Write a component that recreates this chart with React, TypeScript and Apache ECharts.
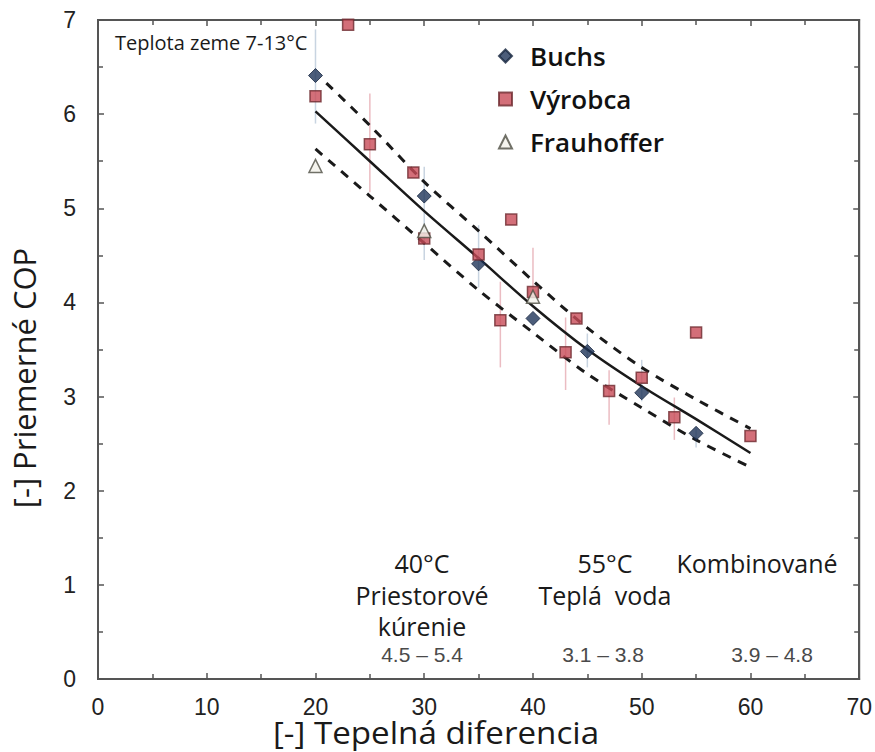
import React, { useEffect, useRef } from "react";
import * as echarts from "echarts";

// Data
const buchsX = [20, 30, 35, 40, 45, 50, 55];
const buchsY = [6.41, 5.13, 4.41, 3.83, 3.48, 3.04, 2.61];

const vyrobcaX = [20, 23, 25, 29, 30, 35, 37, 38, 40, 43, 44, 47, 50, 53, 55, 60];
const vyrobcaY = [6.19, 6.95, 5.68, 5.38, 4.68, 4.51, 3.81, 4.88, 4.11, 3.47, 3.83, 3.06, 3.2, 2.78, 3.68, 2.58];

const frauX = [20, 30, 40];
const frauY = [5.45, 4.76, 4.06];

const fitX = [20, 25, 30, 35, 40, 45, 50, 55, 60];
const fitMid = [6.03, 5.5, 4.97, 4.47, 3.96, 3.5, 3.11, 2.76, 2.4];
const upperX = [21, 25, 30, 35, 40, 45, 50, 55, 60];
const fitUpper = [6.33, 5.88, 5.28, 4.76, 4.23, 3.73, 3.31, 2.97, 2.66];
const fitLower = [5.63, 5.13, 4.63, 4.13, 3.68, 3.24, 2.88, 2.54, 2.25];

// error bars: x, low, high
const errVyrobcaX = [25, 37, 40, 43, 47, 53];
const errVyrobcaLo = [5.17, 3.31, 4.13, 3.07, 2.7, 2.54];
const errVyrobcaHi = [6.22, 4.22, 4.58, 3.84, 3.28, 2.99];
const errBuchsX = [20, 30, 35, 45, 50, 55];
const errBuchsLo = [5.9, 4.45, 4.16, 3.31, 2.95, 2.46];
const errBuchsHi = [6.9, 5.44, 4.82, 3.67, 3.39, 2.66];

const xTicks = [0, 10, 20, 30, 40, 50, 60, 70];
const yTicks = [0, 1, 2, 3, 4, 5, 6, 7];

const legendNames = ["Buchs", "Výrobca", "Frauhoffer"];

const zip = (xs: number[], ys: number[]) => xs.map((x, i) => [x, ys[i]]);
const zip3 = (xs: number[], a: number[], b: number[]) => xs.map((x, i) => [x, a[i], b[i]]);

const errRender = (color: string) => (params: any, api: any) => {
  const x = api.value(0);
  const p1 = api.coord([x, api.value(1)]);
  const p2 = api.coord([x, api.value(2)]);
  return {
    type: "line",
    shape: { x1: p1[0], y1: p1[1], x2: p2[0], y2: p2[1] },
    style: { stroke: color, lineWidth: 1.5 },
  };
};

const axisColor = "#555555";
const tickFont = "Liberation Sans, Arial, sans-serif";
const textFont = "Open Sans, Noto Sans, sans-serif";

function makeX(position: string, labels: boolean) {
  return {
    type: "value",
    position,
    min: xTicks[0],
    max: xTicks[xTicks.length - 1],
    interval: 10,
    splitLine: { show: false },
    axisLine: { show: true, onZero: false, lineStyle: { color: axisColor, width: 2 } },
    axisTick: { show: true, inside: true, length: 6, lineStyle: { color: axisColor, width: 1.5 } },
    minorTick: { show: true, splitNumber: 2, length: 5, lineStyle: { color: axisColor, width: 1.5 } },
    axisLabel: labels
      ? { show: true, margin: 16, fontFamily: tickFont, fontSize: 23, color: "#222" }
      : { show: false },
  };
}

function makeY(position: string, labels: boolean) {
  return {
    type: "value",
    position,
    min: yTicks[0],
    max: yTicks[yTicks.length - 1],
    interval: 1,
    splitLine: { show: false },
    axisLine: { show: true, onZero: false, lineStyle: { color: axisColor, width: 2 } },
    axisTick: { show: true, inside: true, length: 6, lineStyle: { color: axisColor, width: 1.5 } },
    minorTick: { show: true, splitNumber: 2, length: 5, lineStyle: { color: axisColor, width: 1.5 } },
    axisLabel: labels
      ? { show: true, margin: 22, fontFamily: tickFont, fontSize: 23, color: "#222" }
      : { show: false },
  };
}

export default function App() {
  const ref = useRef<HTMLDivElement>(null);
  useEffect(() => {
    if (!ref.current) return;
    const chart = echarts.init(ref.current, null, { renderer: "svg" });
    const annoStyle = { fontFamily: textFont, fontSize: 25, fill: "#1a1a1a" };
    const rangeStyle = { fontFamily: tickFont, fontSize: 21, fill: "#4a4a4a" };
    chart.setOption({
      animation: false,
      grid: {
        left: 98,
        right: 12,
        top: 20,
        bottom: 73,
        show: true,
        borderColor: axisColor,
        borderWidth: 2,
      },
      xAxis: [makeX("bottom", true), makeX("top", false)],
      yAxis: [makeY("left", true), makeY("right", false)],
      legend: {
        data: legendNames,
        orient: "vertical",
        left: 493,
        top: 38,
        itemWidth: 13,
        itemHeight: 13,
        itemGap: 17,
        textStyle: {
          fontFamily: textFont,
          fontSize: 26,
          fontWeight: 600,
          color: "#111",
          padding: [0, 0, 0, 13],
        },
        selectedMode: false,
      },
      series: [
        {
          type: "custom",
          name: "errV",
          renderItem: errRender("#ebbcc2"),
          data: zip3(errVyrobcaX, errVyrobcaLo, errVyrobcaHi),
          z: 1,
          silent: true,
        },
        {
          type: "custom",
          name: "errB",
          renderItem: errRender("#c8d4e1"),
          data: zip3(errBuchsX, errBuchsLo, errBuchsHi),
          z: 1,
          silent: true,
        },
        {
          type: "line",
          name: "fit",
          data: zip(fitX, fitMid),
          smooth: 0.3,
          showSymbol: false,
          lineStyle: { color: "#1a1a1a", width: 2.5 },
          z: 2,
        },
        {
          type: "line",
          name: "upper",
          data: zip(upperX, fitUpper),
          smooth: 0.3,
          showSymbol: false,
          lineStyle: { color: "#1a1a1a", width: 3, type: [9, 8] },
          z: 2,
        },
        {
          type: "line",
          name: "lower",
          xAxisIndex: 1,
          yAxisIndex: 1,
          data: zip(fitX, fitLower),
          smooth: 0.3,
          showSymbol: false,
          lineStyle: { color: "#1a1a1a", width: 3, type: [9, 8] },
          z: 2,
        },
        {
          type: "scatter",
          name: "Buchs",
          symbol: "diamond",
          symbolSize: 14,
          data: zip(buchsX, buchsY),
          itemStyle: { color: "#1f3559", borderColor: "#16263f", borderWidth: 1 },
          z: 4,
          clip: false,
        },
        {
          type: "scatter",
          name: "Výrobca",
          symbol: "rect",
          symbolSize: 11,
          data: zip(vyrobcaX, vyrobcaY),
          itemStyle: { color: "#c84b57", borderColor: "#6e2a30", borderWidth: 1.5 },
          z: 5,
          clip: false,
        },
        {
          type: "scatter",
          name: "Frauhoffer",
          symbol: "triangle",
          symbolSize: 13,
          data: zip(frauX, frauY),
          itemStyle: { color: "#f2f1ea", borderColor: "#4d4d42", borderWidth: 1.5 },
          z: 6,
          clip: false,
        },
      ],
      graphic: [
        {
          type: "text",
          left: 115,
          top: 32,
          style: { text: "Teplota zeme 7-13°C", fontFamily: textFont, fontSize: 20, fill: "#1a1a1a" },
        },
        {
          type: "text",
          x: 436,
          y: 732,
          scaleX: 1.07,
          style: {
            text: "[-] Tepelná diferencia",
            fontFamily: textFont,
            fontSize: 31,
            fill: "#1a1a1a",
            align: "center",
            verticalAlign: "middle",
          },
        },
        {
          type: "text",
          x: 24,
          y: 378,
          rotation: Math.PI / 2,
          style: {
            text: "[-] Priemerné COP",
            fontFamily: textFont,
            fontSize: 31,
            fill: "#1a1a1a",
            align: "center",
            verticalAlign: "middle",
          },
        },
        { type: "text", x: 422, y: 563, style: { ...annoStyle, text: "40°C", align: "center", verticalAlign: "middle" } },
        { type: "text", x: 422, y: 595, style: { ...annoStyle, text: "Priestorové", align: "center", verticalAlign: "middle" } },
        { type: "text", x: 422, y: 626, style: { ...annoStyle, text: "kúrenie", align: "center", verticalAlign: "middle" } },
        { type: "text", x: 422, y: 654, style: { ...rangeStyle, text: "4.5 – 5.4", align: "center", verticalAlign: "middle" } },
        { type: "text", x: 605, y: 563, style: { ...annoStyle, text: "55°C", align: "center", verticalAlign: "middle" } },
        { type: "text", x: 605, y: 595, style: { ...annoStyle, text: "Teplá  voda", align: "center", verticalAlign: "middle" } },
        { type: "text", x: 603, y: 654, style: { ...rangeStyle, text: "3.1 – 3.8", align: "center", verticalAlign: "middle" } },
        { type: "text", x: 757, y: 563, style: { ...annoStyle, text: "Kombinované", align: "center", verticalAlign: "middle" } },
        { type: "text", x: 772, y: 654, style: { ...rangeStyle, text: "3.9 – 4.8", align: "center", verticalAlign: "middle" } },
      ],
    });
    return () => chart.dispose();
  }, []);
  return <div ref={ref} style={{ width: 875, height: 752, position: "absolute", left: 0, top: 0 }} />;
}
